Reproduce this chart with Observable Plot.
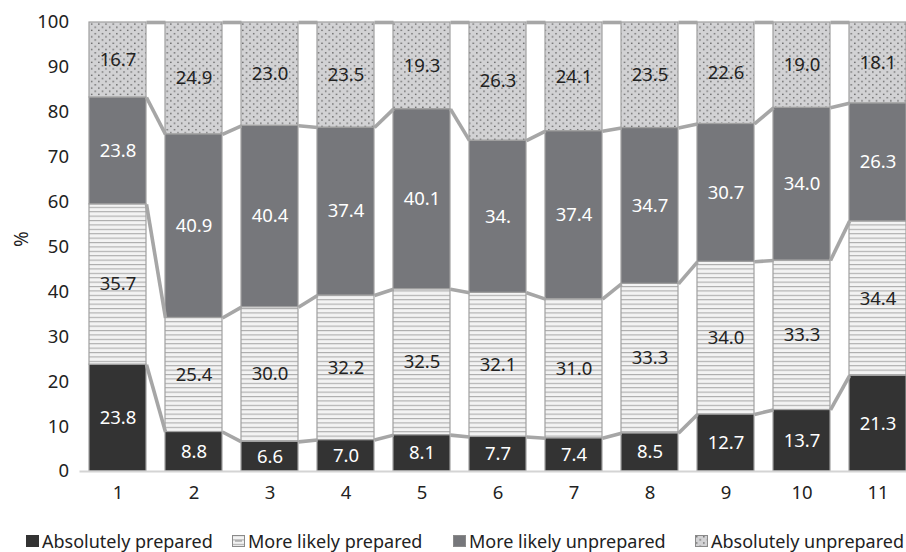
<!DOCTYPE html>
<html>
<head>
<meta charset="utf-8">
<script src="https://cdn.jsdelivr.net/npm/d3@7"></script>
<script src="https://cdn.jsdelivr.net/npm/@observablehq/plot@0.6"></script>
<style>
  html, body { margin: 0; padding: 0; background: #fff; }
  body { width: 906px; height: 552px; overflow: hidden; font-family: "Noto Sans", sans-serif; color: #222; }
  #chart { position: relative; width: 906px; height: 552px; }
  #legend { position: absolute; left: 0; top: 530px; width: 906px; height: 22px; font-size: 18px; line-height: 22px; }
  .item { position: absolute; top: 0; display: flex; align-items: center; white-space: nowrap; }
  .item svg { margin-right: 3px; }
</style>
</head>
<body>
<div id="chart"></div>
<script>
const categories = [1, 2, 3, 4, 5, 6, 7, 8, 9, 10, 11];
const seriesNames = ["Absolutely prepared", "More likely prepared", "More likely unprepared", "Absolutely unprepared"];
const absolutelyPrepared    = [23.8, 8.8, 6.6, 7.0, 8.1, 7.7, 7.4, 8.5, 12.7, 13.7, 21.3];
const moreLikelyPrepared    = [35.7, 25.4, 30.0, 32.2, 32.5, 32.1, 31.0, 33.3, 34.0, 33.3, 34.4];
const moreLikelyUnprepared  = [23.8, 40.9, 40.4, 37.4, 40.1, 33.9, 37.4, 34.7, 30.7, 34.0, 26.3];
const absolutelyUnprepared  = [16.7, 24.9, 23.0, 23.5, 19.3, 26.3, 24.1, 23.5, 22.6, 19.0, 18.1];
// printed labels (as shown in the source)
const labelsAbsolutelyPrepared   = ["23.8", "8.8", "6.6", "7.0", "8.1", "7.7", "7.4", "8.5", "12.7", "13.7", "21.3"];
const labelsMoreLikelyPrepared   = ["35.7", "25.4", "30.0", "32.2", "32.5", "32.1", "31.0", "33.3", "34.0", "33.3", "34.4"];
const labelsMoreLikelyUnprepared = ["23.8", "40.9", "40.4", "37.4", "40.1", "34.", "37.4", "34.7", "30.7", "34.0", "26.3"];
const labelsAbsolutelyUnprepared = ["16.7", "24.9", "23.0", "23.5", "19.3", "26.3", "24.1", "23.5", "22.6", "19.0", "18.1"];
const yTicks = [0, 10, 20, 30, 40, 50, 60, 70, 80, 90, 100];

const seriesValues = [absolutelyPrepared, moreLikelyPrepared, moreLikelyUnprepared, absolutelyUnprepared];
const seriesLabels = [labelsAbsolutelyPrepared, labelsMoreLikelyPrepared, labelsMoreLikelyUnprepared, labelsAbsolutelyUnprepared];
const fills = ["#333333", "url(#hlines)", "#76777b", "url(#dots)"];
const textColors = ["#ffffff", "#222222", "#ffffff", "#222222"];

const rows = [];
categories.forEach((c, i) => {
  let acc = 0;
  seriesValues.forEach((vals, s) => {
    const y1 = acc, y2 = acc + vals[i];
    rows.push({cat: c, s, y1, y2: s === 3 ? 100 : y2, label: seriesLabels[s][i]});
    acc = y2;
  });
});

const half = 0.375;
const links = [];
for (let s = 0; s < 4; s++) {
  for (let i = 0; i < categories.length - 1; i++) {
    const a = rows.find(r => r.cat === categories[i] && r.s === s);
    const b = rows.find(r => r.cat === categories[i + 1] && r.s === s);
    links.push({x1: a.cat + half, y1: a.y2, x2: b.cat - half, y2: b.y2});
  }
}

const barMarks = [0, 1, 2, 3].map(s =>
  Plot.rect(rows.filter(r => r.s === s), {
    x1: d => d.cat - half, x2: d => d.cat + half, y1: "y1", y2: "y2",
    fill: fills[s], stroke: "#a0a0a0", strokeWidth: 1.2
  })
);
const textMarks = [0, 1, 2, 3].map(s =>
  Plot.text(rows.filter(r => r.s === s), {
    x: "cat", y: d => (d.y1 + d.y2) / 2, text: "label",
    fill: textColors[s], fontSize: 18.5
  })
);

const chart = Plot.plot({
  width: 906,
  height: 510,
  marginTop: 22,
  marginBottom: 39,
  marginLeft: 79.5,
  marginRight: 0,
  style: {fontFamily: "Noto Sans, sans-serif", fontSize: "18.5px", color: "#222", background: "#fff"},
  x: {type: "linear", domain: [0.5, 11.5], range: [79.5, 915.5]},
  y: {domain: [0, 100], range: [471, 22]},
  marks: [
    ...barMarks,
    Plot.link(links, {x1: "x1", y1: "y1", x2: "x2", y2: "y2", stroke: "#a6a6a6", strokeWidth: 3.6}),
    Plot.ruleY([0], {stroke: "#d4d4d4", strokeWidth: 2, x1: 0.5, x2: 11.5}),
    ...textMarks,
    Plot.axisY({ticks: yTicks, tickSize: 0, tickPadding: 11, label: null, fontSize: 18.5}),
    Plot.axisX({ticks: categories, tickSize: 0, tickPadding: 14, tickFormat: d => String(d), label: null, fontSize: 18.5}),
    Plot.text(["%"], {frameAnchor: "left", dx: -58, rotate: -90, fontSize: 19, fill: "#222"})
  ]
});

const ns = "http://www.w3.org/2000/svg";
const defs = document.createElementNS(ns, "defs");
defs.innerHTML = `
  <pattern id="hlines" patternUnits="userSpaceOnUse" width="8" height="4.4">
    <rect width="8" height="4.4" fill="#f3f3f3"></rect>
    <rect y="0" width="8" height="1.1" fill="#ababab"></rect>
  </pattern>
  <pattern id="dots" patternUnits="userSpaceOnUse" width="7.2" height="6.4">
    <rect width="7.2" height="6.4" fill="#d2d2d4"></rect>
    <rect x="1" y="1" width="1.3" height="1.3" fill="#555"></rect>
    <rect x="4.6" y="4.2" width="1.3" height="1.3" fill="#555"></rect>
  </pattern>`;
chart.insertBefore(defs, chart.firstChild);

const container = document.getElementById("chart");
container.appendChild(chart);

const legend = document.createElement("div");
legend.id = "legend";
const legendX = [26, 232, 453, 695];
seriesNames.forEach((name, s) => {
  const item = document.createElement("div");
  item.className = "item";
  item.style.left = legendX[s] + "px";
  const sw = `<svg width="13" height="12"><rect x="0.5" y="0.5" width="12" height="11" fill="${fills[s]}" stroke="${s === 0 ? '#333' : '#8a8a8a'}" stroke-width="1"></rect>${s === 1 ? '<line x1="3" x2="10" y1="6" y2="6" stroke="#8a8a8a"/>' : ''}</svg>`;
  item.innerHTML = sw + `<span>${name}</span>`;
  legend.appendChild(item);
});
container.appendChild(legend);
</script>
</body>
</html>
